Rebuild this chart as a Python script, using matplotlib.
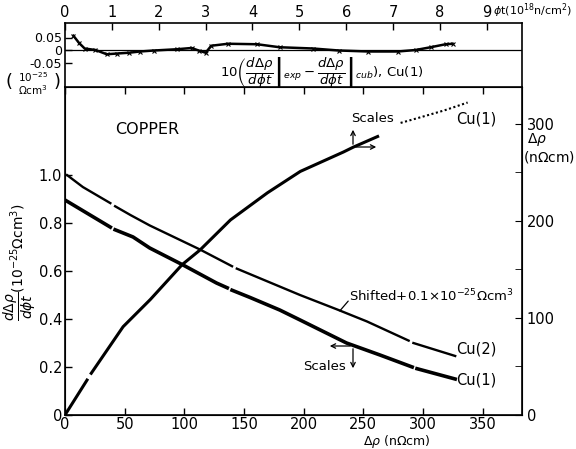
import numpy as np
import matplotlib
matplotlib.use("Agg")
import matplotlib.pyplot as plt

# Cu(1): drho/dphit vs drho (bottom / left axes); NaN = gap in the trace
cu1_rho = [0, 38, np.nan, 42, 57, 71, 99, 127, 136, np.nan, 140, 155, 180, 197, 236, 264, 291, np.nan, 295, 327]
cu1_rate = [0.896, 0.783, np.nan, 0.772, 0.742, 0.696, 0.625, 0.55, 0.53, np.nan, 0.52, 0.49, 0.4375, 0.396, 0.30, 0.25, 0.20, np.nan, 0.193, 0.15]

# Cu(2), shifted +0.1
cu2_rho = [1.7, 15, 38, np.nan, 42, 55, 71, 113, 140, np.nan, 144, 197, 228, 253, 288, np.nan, 292, 327]
cu2_rate = [1.0, 0.95, 0.883, np.nan, 0.87, 0.833, 0.79, 0.69, 0.62, np.nan, 0.61, 0.50, 0.44, 0.39, 0.31, np.nan, 0.30, 0.246]

# Cu(1): drho vs phit (top / right axes)
rise_phit = [0, 0.47, np.nan, 0.56, 1.24, 1.82, 2.50, 2.88, 3.53, 4.32, 5.02, 5.94, 6.15, 6.67]
rise_rho = [0, 36, np.nan, 43, 91, 119, 155, 170, 201, 229, 251, 271, 276, 287]
rise_sparse_phit = [6.90, np.nan, 7.16, 7.6, 8.1, 8.59]
rise_sparse_rho = [292, np.nan, 301, 307, 314, 322]

# top panel: 10*(exp - cubic fit), Cu(1)
res_phit = [0.18, 0.30, 0.42, 0.65, 0.89, 1.12, 1.36, 1.6, 1.9, 2.38, 2.7, 2.85, 3.0, 3.12,
            3.48, 4.1, 4.58, 5.29, 5.84, 6.47, 7.1, 7.48, 7.8, 8.12, 8.27]
res_val = [0.057, 0.028, 0.006, 0.0, -0.017, -0.014, -0.011, -0.006, -0.002, 0.003, 0.008, -0.002,
           -0.011, 0.017, 0.025, 0.023, 0.011, 0.006, -0.002, -0.006, -0.006, 0.0, 0.011, 0.023, 0.025]

W, H = 576, 449
fig = plt.figure(figsize=(W / 100, H / 100), dpi=100)
plt.rcParams['font.family'] = 'DejaVu Sans'


def box(x0, y0, x1, y1):
    return [x0 / W, 1 - y1 / H, (x1 - x0) / W, (y1 - y0) / H]


def fxy(x, y):
    return x / W, 1 - y / H


fs = 10.5
ax = fig.add_axes(box(65, 87, 522, 415))
ax.set_xlim(0, 383)
ax.set_ylim(0, 1.367)
ax.set_xticks([0, 50, 100, 150, 200, 250, 300, 350])
ax.set_xticklabels(['0', '50', '100', '150', '200', '250', '300', '350'])
ax.set_yticks([0, 0.2, 0.4, 0.6, 0.8, 1.0])
ax.set_yticklabels(['0', '0.2', '0.4', '0.6', '0.8', '1.0'])
ax.tick_params(direction='in', length=5, labelsize=fs, top=True, width=1, pad=2)
ax.tick_params(axis='x', pad=1.5)
for s in ax.spines.values():
    s.set_linewidth(1.2)

ax.plot(cu1_rho, cu1_rate, color='black', lw=2.6)
ax.plot(cu2_rho, cu2_rate, color='black', lw=1.7)

axr = ax.twinx()
axr.set_ylim(0, 338)
axr.set_yticks([0, 100, 200, 300])
axr.set_yticks([50, 150, 250], minor=True)
axr.tick_params(direction='in', length=5, labelsize=fs, which='both')

# overlay in phit / drho units for the rising curve
axo = fig.add_axes(box(65, 87, 522, 415))
axo.set_xlim(0, 9.75)
axo.set_ylim(0, 338)
axo.axis('off')
axo.plot(rise_phit, rise_rho, color='black', lw=2.2)
axo.plot(rise_sparse_phit, rise_sparse_rho, color='black', lw=1.5, ls=(0, (1, 1.2)))

# top residual panel
axt = fig.add_axes(box(65, 23, 522, 87))
axt.set_xlim(0, 9.75)
axt.set_ylim(-0.148, 0.108)
axt.xaxis.tick_top()
axt.set_xticks(range(10))
axt.set_yticks([0.05, 0, -0.05])
axt.set_yticklabels(['0.05', '0', '-0.05'])
axt.tick_params(direction='in', length=5, labelsize=fs, width=1)
axt.tick_params(axis='y', labelsize=9, pad=2)
axt.tick_params(axis='x', pad=2)
for s in axt.spines.values():
    s.set_linewidth(1.2)
axt.axhline(0, color='black', lw=0.9)
axt.plot(res_phit, res_val, color='black', lw=1.8, marker='x', ms=3, mew=0.8)

# texts
fig.text(*fxy(493, 11), r'$\phi$t(10$^{18}$n/cm$^2$)', fontsize=8, va='center', ha='left')
fig.text(*fxy(322, 72),
         r'$10\left(\dfrac{d\Delta\rho}{d\phi t}\right|_{exp}-\left.\dfrac{d\Delta\rho}{d\phi t}\right|_{cub}$), Cu(1)',
         fontsize=9.5, ha='center', va='center')
fig.text(*fxy(9, 82), '(', fontsize=13, ha='center', va='center')
fig.text(*fxy(57, 82), ')', fontsize=13, ha='center', va='center')
fig.text(*fxy(33, 77), r'10$^{-25}$', fontsize=7.5, ha='center', va='center')
fig.text(*fxy(33, 90), r'$\Omega$cm$^3$', fontsize=7.5, ha='center', va='center')
fig.text(*fxy(20, 262), r'$\dfrac{d\Delta\rho}{d\phi t}$(10$^{-25}\Omega$cm$^3$)',
         fontsize=10, rotation=90, ha='center', va='center')
fig.text(*fxy(527, 140), r'$\Delta\rho$', fontsize=10, ha='left', va='center')
fig.text(*fxy(523, 157), r'(n$\Omega$cm)', fontsize=10, ha='left', va='center')
fig.text(*fxy(397, 442), r'$\Delta\rho$ (n$\Omega$cm)', fontsize=9, ha='center', va='center')

tf = fig.transFigure
ax.text(*fxy(147, 130), 'COPPER', transform=tf, fontsize=11.5, ha='center', va='center')
ax.text(*fxy(372, 118), 'Scales', transform=tf, fontsize=9.5, ha='center', va='center')
ax.text(*fxy(476, 119), 'Cu(1)', transform=tf, fontsize=10.5, ha='center', va='center')
ax.text(*fxy(349, 296), r'Shifted+0.1$\times$10$^{-25}\Omega$cm$^3$', transform=tf,
        fontsize=9.5, ha='left', va='center')
ax.text(*fxy(476, 349), 'Cu(2)', transform=tf, fontsize=10.5, ha='center', va='center')
ax.text(*fxy(476, 380), 'Cu(1)', transform=tf, fontsize=10.5, ha='center', va='center')
ax.text(*fxy(324, 366), 'Scales', transform=tf, fontsize=9.5, ha='center', va='center')

arr = dict(arrowstyle='->', color='black', lw=0.9, mutation_scale=8)
for (x0, y0, x1, y1) in [(353, 147, 353, 127), (353, 147, 379, 147),
                         (353, 346, 327, 346), (353, 346, 353, 371)]:
    ax.annotate('', xy=fxy(x1, y1), xytext=fxy(x0, y0),
                xycoords=tf, textcoords=tf, arrowprops=arr)
ax.annotate('', xy=fxy(350, 299), xytext=fxy(338, 313),
            xycoords=tf, textcoords=tf, arrowprops=dict(arrowstyle='-', color='black', lw=0.9))

fig.savefig('out.png', dpi=100)
